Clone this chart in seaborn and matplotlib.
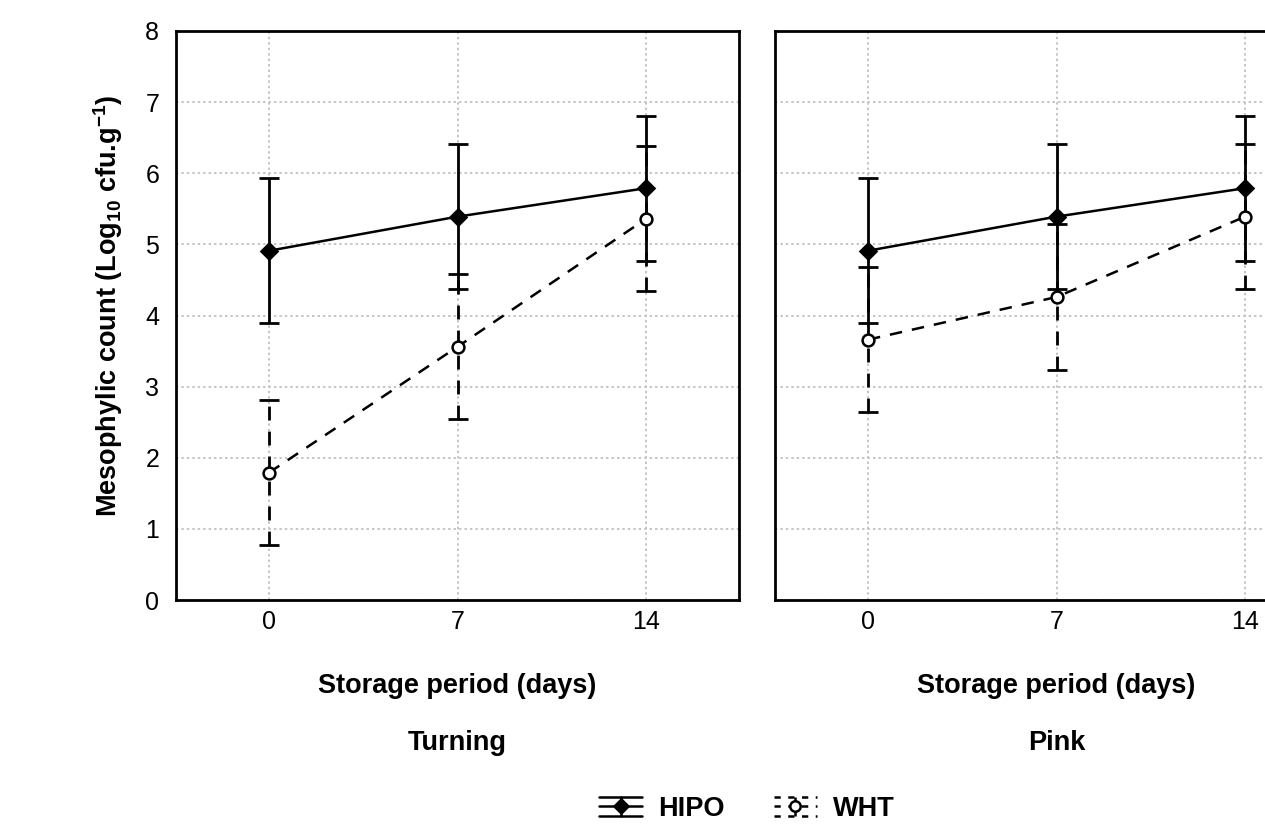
import matplotlib
matplotlib.use("Agg")
import matplotlib.pyplot as plt
import seaborn as sns
import pandas as pd
from matplotlib.lines import Line2D
from matplotlib.legend_handler import HandlerBase

# Storage days and log10 counts per ripening stage
days = [0, 7, 14]
turning_hipo = [4.91, 5.39, 5.79]
turning_hipo_err = [1.02, 1.02, 1.02]
turning_wht = [1.79, 3.56, 5.36]
turning_wht_err = [1.02, 1.02, 1.02]
pink_hipo = [4.91, 5.39, 5.79]
pink_hipo_err = [1.02, 1.02, 1.02]
pink_wht = [3.66, 4.26, 5.39]
pink_wht_err = [1.02, 1.02, 1.02]

stages = ["Turning", "Pink"]
treatments = ["HIPO", "WHT"]
y_ticks = [0, 1, 2, 3, 4, 5, 6, 7, 8]

sns.set_theme(style="white")
plt.rcParams["font.family"] = ["Liberation Sans", "DejaVu Sans"]
plt.rcParams["text.color"] = "black"
plt.rcParams["mathtext.fontset"] = "custom"
plt.rcParams["mathtext.rm"] = "Liberation Sans"
plt.rcParams["mathtext.bf"] = "Liberation Sans:bold"

TICK_FS = 18
LABEL_FS = 19.5

rows = []
for stage, series in zip(stages, [(turning_hipo, turning_hipo_err, turning_wht, turning_wht_err),
                                  (pink_hipo, pink_hipo_err, pink_wht, pink_wht_err)]):
    h, he, w, we = series
    for d, v, e in zip(days, h, he):
        rows.append(dict(stage=stage, treatment="HIPO", day=d, count=v, err=e))
    for d, v, e in zip(days, w, we):
        rows.append(dict(stage=stage, treatment="WHT", day=d, count=v, err=e))
df = pd.DataFrame(rows)

W, H = 1265, 835
fig = plt.figure(figsize=(W / 100, H / 100), dpi=100)
ax_w = 563 / W
ax_h = 569 / H
bottom = (H - 600) / H
axes = [fig.add_axes([176 / W, bottom, ax_w, ax_h]),
        fig.add_axes([775 / W, bottom, ax_w, ax_h])]

styles = {"HIPO": dict(ls="-", marker="D", mfc="black", ms=8),
          "WHT": dict(ls=(0, (5, 4)), marker="o", mfc="white", ms=8.5)}

for ax, stage in zip(axes, stages):
    sub = df[df.stage == stage]
    ax.grid(True, color="#c4c4c4", ls=(0, (1.2, 1.6)), lw=1.4)
    for tr in treatments:
        d = sub[sub.treatment == tr]
        st = styles[tr]
        eb = ax.errorbar(d["day"], d["count"], yerr=d["err"], fmt="none",
                         ecolor="black", elinewidth=2.0, capsize=7, capthick=2.0,
                         zorder=3)
        eb[2][0].set_linestyle(st["ls"])
        sns.lineplot(data=d, x="day", y="count", ax=ax, color="black",
                     lw=1.8, marker=st["marker"], markersize=st["ms"],
                     markerfacecolor=st["mfc"], markeredgecolor="black",
                     markeredgewidth=1.8, linestyle=st["ls"], zorder=4,
                     errorbar=None)
    ax.set_xlim(-3.45, 17.45)
    ax.set_ylim(0, 8)
    ax.set_xticks(days)
    ax.set_xticklabels([str(d) for d in days])
    ax.set_yticks(y_ticks)
    ax.tick_params(direction="in", length=3, width=1.5, color="black",
                   labelsize=TICK_FS, labelcolor="black")
    ax.tick_params(axis="x", pad=7)
    ax.tick_params(axis="y", pad=12)
    for sp in ax.spines.values():
        sp.set_color("black")
        sp.set_linewidth(2.0)
    ax.set_xlabel("Storage period (days)", fontsize=LABEL_FS, fontweight="bold",
                  color="black", va="center")
    ax.xaxis.set_label_coords(0.5, (600 - 686) / 569)
    ax.text(0.5, (600 - 743) / 569, stage, transform=ax.transAxes, ha="center",
            va="center", fontsize=LABEL_FS, fontweight="bold", color="black")

axes[0].set_ylabel("Mesophylic count (Log$_{\\mathbf{10}}$ cfu.g$^{\\mathbf{-1}}$)",
                   fontsize=LABEL_FS, fontweight="bold", color="black")
axes[0].yaxis.label.set(ha="center", va="center", rotation_mode="anchor")
axes[0].yaxis.set_label_coords((108 - 176) / 563, (600 - 306) / 569)
axes[1].set_ylabel("")
axes[1].tick_params(axis="y", labelleft=False)


class ErrorbarKey(HandlerBase):
    """Legend key: capped error bar with a connecting line and marker."""

    def __init__(self, ls, marker, mfc, ms):
        super().__init__()
        self.ls, self.marker, self.mfc, self.ms = ls, marker, mfc, ms

    def create_artists(self, legend, orig_handle, xdescent, ydescent,
                       width, height, fontsize, trans):
        x0, x1 = -xdescent, width - xdescent
        cx = (x0 + x1) / 2
        cy = height / 2 - ydescent
        hh = 0.36 * fontsize
        kw = dict(color="black", lw=1.8, ls=self.ls, transform=trans)
        arts = [Line2D([x0, x1], [cy + hh, cy + hh], **kw),
                Line2D([x0, x1], [cy - hh, cy - hh], **kw),
                Line2D([x0, x1], [cy, cy], **kw),
                Line2D([cx, cx], [cy - hh, cy + hh], **kw),
                Line2D([cx], [cy], marker=self.marker, ms=self.ms,
                       mfc=self.mfc, mec="black", mew=1.8, ls="none",
                       transform=trans)]
        return arts


handles = [Line2D([], []) for _ in treatments]
handler_map = {h: ErrorbarKey(styles[tr]["ls"] if tr == "HIPO" else (0, (2.5, 3)),
                              styles[tr]["marker"], styles[tr]["mfc"],
                              styles[tr]["ms"] - 1)
               for h, tr in zip(handles, treatments)}
fig.legend(handles, treatments, handler_map=handler_map, loc="center",
           bbox_to_anchor=(747 / W, 1 - 808 / H), ncol=2, frameon=False,
           handlelength=1.6, handleheight=1.0, handletextpad=0.6,
           columnspacing=1.8, labelcolor="black",
           prop=dict(size=LABEL_FS, weight="bold"))

fig.savefig("out.png", dpi=100)
